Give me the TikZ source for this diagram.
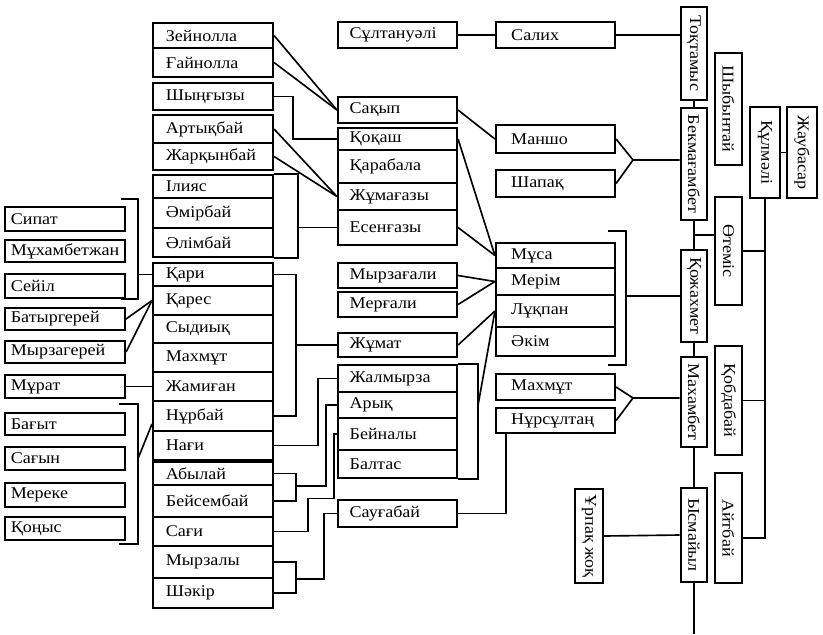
\documentclass[tikz,border=0pt]{standalone}
\usepackage{fontspec}
\setmainfont{Liberation Serif}[FakeStretch=1.1]
\usepackage{graphicx}
\usetikzlibrary{calc}
\newcommand\vname[1]{\rotatebox{-90}{#1}}
\begin{document}
\begin{tikzpicture}[x=0.03cm,y=-0.03cm,
	font=\fontsize{14}{16}\selectfont,
	namebox/.style={draw,line width=1.8pt,inner ysep=0pt,align=left},
	colA/.style={namebox,inner xsep=5pt,text width=92.4pt},
	colB/.style={namebox,inner xsep=11pt,text width=80.4pt},
	colC/.style={namebox,inner xsep=10pt,text width=81.6pt},
	colD/.style={namebox,inner xsep=13pt,text width=75.6pt},
	vbox/.style={draw,line width=1.8pt,inner sep=0pt,minimum width=0.8cm},
	ht/.style={minimum height=#1*0.03cm},
	link/.style={line width=1.4pt}]
		\useasboundingbox (0,0) rectangle (823,634);

		% left column
		\node[colA,ht=24] (sipat) at (65,219) {Сипат};
		\node[colA,ht=22] (mukhambetzhan) at (65,251) {Мұхамбетжан};
		\node[colA,ht=24] (seiil) at (65,286) {Сейіл};
		\node[colA,ht=22] (batyrgerei) at (65,319) {Батыргерей};
		\node[colA,ht=22] (myrzagerei) at (65,352) {Мырзагерей};
		\node[colA,ht=23] (murat) at (65,386.5) {Мұрат};
		\node[colA,ht=22] (bagyt) at (65,424) {Бағыт};
		\node[colA,ht=23] (sagyn) at (65,458.5) {Сағын};
		\node[colA,ht=24] (mereke) at (65,495) {Мереке};
		\node[colA,ht=23] (konys) at (65,528.5) {Қоңыс};

		% second column
		\node[colB,ht=25] (zeinolla) at (213,35.5) {Зейнолла};
		\node[colB,ht=29] (gainolla) at (213,62.5) {Ғайнолла};
		\node[colB,ht=27] (shyngyzy) at (213,96.5) {Шыңғызы};
		\node[colB,ht=28] (artykbai) at (213,129) {Артықбай};
		\node[colB,ht=27] (zharkynbai) at (213,156.5) {Жарқынбай};
		\node[colB,ht=23] (iliyas) at (213,186.5) {Ілияс};
		\node[colB,ht=30] (amirbai) at (213,213) {Әмірбай};
		\node[colB,ht=29] (alimbai) at (213,242.5) {Әлімбай};
		\node[colB,ht=23] (kari) at (213,274.5) {Қари};
		\node[colB,ht=29] (kares) at (213,300.5) {Қарес};
		\node[colB,ht=28] (sydyk) at (213,329) {Сыдиық};
		\node[colB,ht=29] (makhmut) at (213,357.5) {Махмұт};
		\node[colB,ht=29] (zhamigan) at (213,386.5) {Жамиған};
		\node[colB,ht=30] (nurbai) at (213,416) {Нұрбай};
		\node[colB,ht=29] (nagi) at (213,445.5) {Нағи};
		\node[colB,ht=23] (abylai) at (213,473.5) {Абылай};
		\node[colB,ht=32] (beisembai) at (213,501) {Бейсембай};
		\node[colB,ht=29] (sagi) at (213,531.5) {Сағи};
		\node[colB,ht=32] (myrzaly) at (213,562) {Мырзалы};
		\node[colB,ht=30] (shakir) at (213,593) {Шәкір};

		% third column
		\node[colC,ht=26] (sultanuali) at (397.5,35) {Сұлтануәлі};
		\node[colC,ht=26] (sakyp) at (397.5,110) {Сақып};
		\node[colC,ht=22] (kokash) at (397.5,139) {Қоқаш};
		\node[colC,ht=33] (karabala) at (397.5,166.5) {Қарабала};
		\node[colC,ht=27] (zhumagazy) at (397.5,196.5) {Жұмағазы};
		\node[colC,ht=35] (esengazy) at (397.5,227.5) {Есенғазы};
		\node[colC,ht=25] (myrzagali) at (397.5,275.5) {Мырзағали};
		\node[colC,ht=25] (mergali) at (397.5,304.5) {Мерғали};
		\node[colC,ht=24] (zhumat) at (397.5,345) {Жұмат};
		\node[colC,ht=27] (zhalmyrza) at (397.5,378.5) {Жалмырза};
		\node[colC,ht=26] (aryk) at (397.5,405) {Арық};
		\node[colC,ht=32] (beinaly) at (397.5,434) {Бейналы};
		\node[colC,ht=28] (baltas) at (397.5,464) {Балтас};
		\node[colC,ht=27] (saugabai) at (397.5,513.5) {Сауғабай};

		% fourth column
		\node[colD,ht=26] (salikh) at (555.5,35) {Салих};
		\node[colD,ht=28] (mansho) at (555.5,139) {Маншо};
		\node[colD,ht=27] (shapak) at (555.5,183.5) {Шапақ};
		\node[colD,ht=25] (musa) at (555.5,255.5) {Мұса};
		\node[colD,ht=27] (merim) at (555.5,281.5) {Мерім};
		\node[colD,ht=32] (lukpan) at (555.5,311) {Лұқпан};
		\node[colD,ht=29] (akim) at (555.5,341.5) {Әкім};
		\node[colD,ht=26] (makhmut2) at (555.5,387) {Махмұт};
		\node[colD,ht=25] (nursultan) at (555.5,420.5) {Нұрсұлтаң};
		\node[vbox,ht=94,minimum width=0.84cm] (urpak) at (589,536) {\vname{Ұрпақ жоқ}};

		% main line
		\node[vbox,ht=93] (toktamys) at (694,53.5) {\vname{Тоқтамыс}};
		\node[vbox,ht=112] (bekmagambet) at (694,164) {\vname{Бекмағамбет}};
		\node[vbox,ht=92] (kozhakhmet) at (694,296) {\vname{Қожахмет}};
		\node[vbox,ht=90] (makhambet) at (694,402) {\vname{Махамбет}};
		\node[vbox,ht=94] (ysmaiyl) at (694,535) {\vname{Ысмайыл}};

		\node[vbox,ht=112] (shybyntai) at (728.5,109) {\vname{Шыбынтай}};
		\node[vbox,ht=108] (otemis) at (728.5,251) {\vname{Өтеміс}};
		\node[vbox,ht=109] (kobdabai) at (728.5,400.5) {\vname{Қобдабай}};
		\node[vbox,ht=110] (aitbai) at (728.5,528) {\vname{Айтбай}};

		\node[vbox,ht=91,minimum width=0.9cm] (kulmali) at (765,152.5) {\vname{Құлмәлі}};
		\node[vbox,ht=91,minimum width=0.9cm] (zhaubasar) at (802,152.5) {\vname{Жаубасар}};

		% links, left part
		\draw[link] (sipat.north east) ++(-5,-7) -- ++(17,0) coordinate (sbr) -- ++(0,100) -- ++(-17,0);
		\draw[link] (sbr |- kari.west) -- (kari.west);
		\draw[link] (batyrgerei.east) -- (kares.west);
		\draw[link] (myrzagerei.east) -- (kares.west);
		\draw[link] (murat.east) -- (zhamigan.west);
		\draw[link] (bagyt.north east) ++(-7,-8) -- ++(19,0) coordinate (bbr) -- ++(0,140) -- ++(-19,0);
		\draw[link] (bbr |- sagyn.center) -- ($(nurbai.west)!.5!(nurbai.south west)$);

		\draw[link] (zeinolla.east) -- (sakyp.west);
		\draw[link] (gainolla.east) -- (sakyp.west);
		\draw[link] (shyngyzy.east) -- ++(19,0) |- (kokash.west);
		\draw[link] (artykbai.east) -- (zhumagazy.west);
		\draw[link] (zharkynbai.east) -- (zhumagazy.west);
		\draw[link] (iliyas.north east) -- ++(24,0) coordinate (ilbr) |- (alimbai.south east);
		\draw[link] (ilbr |- esengazy.west) -- (esengazy.west);
		\draw[link] (kari.east) -- ++(22,0) coordinate (kbr) |- (nurbai.east);
		\draw[link] (kbr |- zhumat.west) -- (zhumat.west);
		\draw[link] (nagi.east) -- ++(44,0) |- (zhalmyrza.west);
		\draw[link] (abylai.east) -- ++(22,0) coordinate (abr) |- (beisembai.east);
		\draw[link] (abr |- abylai.south) -- ++(30,0) |- (aryk.west);
		\draw[link] (sagi.east) -- ++(34,0) -- ++(0,-33) -- ++(26,0) |- (beinaly.west);
		\draw[link] (myrzaly.east) -- ++(22,0) coordinate (mbr) |- (shakir.east);
		\draw[link] (mbr |- myrzaly.south) -- ++(28,0) |- (saugabai.west);

		% links, middle part
		\draw[link] (sultanuali.east) -- (salikh.west);
		\draw[link] (salikh.east) -- (salikh.east -| toktamys.west);
		\draw[link] (sakyp.east) -- (mansho.west);
		\coordinate (fork1) at (633,160);
		\draw[link] (mansho.east) -- (fork1) -- (fork1 -| bekmagambet.west);
		\draw[link] (shapak.east) -- (fork1);
		\draw[link] (kokash.east) -- (musa.west);
		\draw[link] (esengazy.east) -- (musa.west);
		\draw[link] (myrzagali.east) -- (merim.west);
		\draw[link] (mergali.east) -- (merim.west);
		\draw[link] (zhumat.east) -- (lukpan.west);
		\draw[link] (zhalmyrza.north east) -- ++(20,0) coordinate (zbr) |- (baltas.south east);
		\draw[link] (zbr |- aryk.center) -- (lukpan.west);
		\draw[link] (saugabai.east) -- ++(48,0) coordinate (sgr) -- (sgr |- nursultan.south);
		\draw[link] (musa.north east) ++(-8,-11) -- ++(18,0) coordinate (msbr) -- ++(0,134) -- ++(-18,0);
		\draw[link] (msbr |- kozhakhmet.west) -- (kozhakhmet.west);
		\coordinate (fork2) at (633,398);
		\draw[link] (makhmut2.east) -- (fork2) -- (fork2 -| makhambet.west);
		\draw[link] (nursultan.east) -- (fork2);

		% links, right part
		\coordinate (spineend) at (694,634);
		\draw[link] (toktamys.south) -- (bekmagambet.north);
		\draw[link] (bekmagambet.south) -- (kozhakhmet.north);
		\draw[link] (kozhakhmet.south) -- (makhambet.north);
		\draw[link] (makhambet.south) -- (ysmaiyl.north);
		\draw[link] (ysmaiyl.south) -- (spineend);
		\draw[link] ($(bekmagambet.south)!.5!(kozhakhmet.north)$) coordinate (bk) -- (bk -| otemis.west);
		\draw[link] (urpak.east) -- (ysmaiyl.west);
		\draw[link] (kulmali.east) -- (zhaubasar.west);
		\draw[link] (kulmali.south) -- ++(0,339) coordinate (kend) -- (kend -| aitbai.east);
		\draw[link] (kulmali.south |- otemis.east) -- (otemis.east);
		\draw[link] (kulmali.south |- kobdabai.east) -- (kobdabai.east);
	\end{tikzpicture}
\end{document}
